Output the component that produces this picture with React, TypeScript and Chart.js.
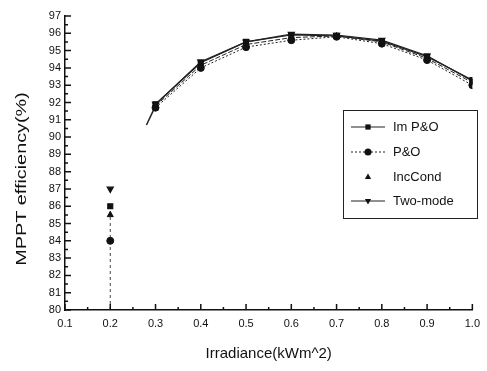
import React, { useEffect, useRef } from "react";
import { Chart, registerables } from "chart.js";

Chart.register(...registerables);

const irradiance = [0.3, 0.4, 0.5, 0.6, 0.7, 0.8, 0.9, 1.0];
const imPO = [91.9, 94.3, 95.5, 95.9, 95.85, 95.55, 94.65, 93.3];
const pO = [91.7, 94.0, 95.2, 95.6, 95.8, 95.4, 94.45, 93.0];
const incCond = [91.8, 94.15, 95.35, 95.75, 95.85, 95.5, 94.55, 93.15];
const twoMode = [91.9, 94.35, 95.5, 95.95, 95.9, 95.6, 94.7, 93.25];

const lowIrr = 0.2;
const lowImPO = 86;
const lowPO = 84;
const lowIncCond = 85.5;
const lowTwoMode = 87;

const dropLineX = [0.2, 0.2];
const dropLineY = [80, 86];
const stubX = [0.28, 0.3];
const stubY = [90.7, 91.8];

const seriesNames = ["Im P&O", "P&O", "IncCond", "Two-mode"];
const xTitle = "Irradiance(kWm^2)";
const yTitle = "MPPT efficiency(%)";
const xTicksMin = 0.1;
const xTicksMax = 1.0;
const yTicksMin = 80;
const yTicksMax = 97;

const FONT = "'Liberation Sans', Arial, sans-serif";

function pts(xs: number[], ys: number[]) {
  return xs.map((x, i) => ({ x, y: ys[i] }));
}

function withLow(lowY: number, ys: number[]) {
  return [{ x: lowIrr, y: lowY }, { x: NaN, y: NaN }, ...pts(irradiance, ys)];
}

function drawMarker(ctx: CanvasRenderingContext2D, style: string, rot: number, r: number, x: number, y: number) {
  ctx.beginPath();
  if (style === "rect") {
    ctx.rect(x - r * 0.75, y - r * 0.75, r * 1.5, r * 1.5);
  } else if (style === "circle") {
    ctx.arc(x, y, r, 0, Math.PI * 2);
  } else {
    const s = rot === 180 ? -1 : 1;
    ctx.moveTo(x, y - s * r);
    ctx.lineTo(x - r * 0.9, y + s * r * 0.6);
    ctx.lineTo(x + r * 0.9, y + s * r * 0.6);
    ctx.closePath();
  }
  ctx.fill();
}

const ticksPlugin = {
  id: "inwardTicks",
  afterDraw(chart: any) {
    const ctx = chart.ctx;
    const xs = chart.scales.x;
    const ys = chart.scales.y;
    const area = chart.chartArea;
    ctx.save();
    ctx.strokeStyle = "#111";
    ctx.lineWidth = 1.5;
    ctx.beginPath();
    for (let i = 0; i <= 18; i++) {
      const v = xTicksMin + i * 0.05;
      const px = xs.getPixelForValue(v);
      const len = i % 2 === 0 ? 6 : 3;
      ctx.moveTo(px, area.bottom);
      ctx.lineTo(px, area.bottom - len);
    }
    for (let i = 0; i <= 34; i++) {
      const v = yTicksMin + i * 0.5;
      const py = ys.getPixelForValue(v);
      const len = i % 2 === 0 ? 6 : 3;
      ctx.moveTo(area.left, py);
      ctx.lineTo(area.left + len, py);
    }
    ctx.stroke();

    // y-axis title (stretched like the reference)
    ctx.save();
    ctx.translate(22, 179);
    ctx.rotate(-Math.PI / 2);
    ctx.scale(1.32, 1);
    ctx.font = `15px ${FONT}`;
    ctx.textAlign = "center";
    ctx.textBaseline = "middle";
    ctx.fillStyle = "#111";
    ctx.fillText(yTitle, 0, 0);
    ctx.restore();

    const bx = 343, by = 110, bw = 134, bh = 108;
    ctx.lineWidth = 1;
    ctx.strokeStyle = "#222";
    ctx.strokeRect(bx + 0.5, by + 0.5, bw, bh);
    const rows = [127, 152, 177, 201];
    ctx.font = `13px ${FONT}`;
    ctx.textBaseline = "middle";
    ctx.fillStyle = "#111";
    chart.data.datasets.slice(0, 4).forEach((ds: any, i: number) => {
      const y = rows[i];
      const x0 = bx + 8, x1 = bx + 42;
      if (i !== 2) {
        ctx.save();
        ctx.strokeStyle = ds.borderColor;
        ctx.lineWidth = ds.borderWidth;
        ctx.setLineDash(ds.borderDash || []);
        ctx.beginPath();
        ctx.moveTo(x0, y);
        ctx.lineTo(x1, y);
        ctx.stroke();
        ctx.restore();
      }
      ctx.save();
      ctx.fillStyle = "#111";
      drawMarker(ctx, ds.pointStyle, ds.pointRotation || 0, ds.pointRadius, (x0 + x1) / 2, y);
      ctx.restore();
      ctx.fillText(seriesNames[i], bx + 50, y);
    });
    ctx.restore();
  },
};

export default function App() {
  const ref = useRef<HTMLCanvasElement>(null);
  useEffect(() => {
    document.body.style.margin = "0";
    const common = {
      borderColor: "#222",
      backgroundColor: "#111",
      pointBorderColor: "#111",
      pointBackgroundColor: "#111",
      showLine: true,
      spanGaps: false,
    };
    const chart = new Chart(ref.current!, {
      type: "scatter",
      data: {
        datasets: [
          { ...common, label: seriesNames[0], data: withLow(lowImPO, imPO), pointStyle: "rect", pointRadius: 3.5, borderWidth: 1.2 },
          { ...common, label: seriesNames[1], data: withLow(lowPO, pO), pointStyle: "circle", pointRadius: 3.5, borderWidth: 1, borderDash: [2, 2] },
          { ...common, label: seriesNames[2], data: withLow(lowIncCond, incCond), pointStyle: "triangle", pointRadius: 3.5, borderWidth: 1, borderDash: [5, 2] },
          { ...common, label: seriesNames[3], data: withLow(lowTwoMode, twoMode), pointStyle: "triangle", pointRotation: 180, pointRadius: 3.5, borderWidth: 1.2 },
          { ...common, label: "drop", data: pts(dropLineX, dropLineY), pointRadius: 0, borderWidth: 1, borderDash: [3, 3], borderColor: "#444" },
          { ...common, label: "stub", data: pts(stubX, stubY), pointRadius: 0, borderWidth: 1.5 },
        ],
      } as any,
      options: {
        animation: false,
        responsive: false,
        layout: { padding: { top: 16, right: 9, left: 0, bottom: 0 } },
        plugins: { legend: { display: false }, tooltip: { enabled: false } },
        scales: {
          x: {
            type: "linear",
            min: xTicksMin,
            max: xTicksMax,
            grid: { display: false, drawTicks: false },
            border: { display: true, color: "#111", width: 1.5 },
            ticks: {
              stepSize: 0.1,
              padding: 7,
              color: "#111",
              font: { family: FONT, size: 11 },
              callback: (v: any) => Number(v).toFixed(1),
            },
            title: {
              display: true,
              text: xTitle,
              color: "#111",
              font: { family: FONT, size: 15 },
              padding: { top: 4, bottom: 8 },
            },
            afterFit: (s: any) => { s.height = 61; },
          },
          y: {
            type: "linear",
            min: yTicksMin,
            max: yTicksMax,
            grid: { display: false, drawTicks: false },
            border: { display: true, color: "#111", width: 1.5 },
            ticks: {
              stepSize: 1,
              padding: 4,
              color: "#111",
              font: { family: FONT, size: 11 },
            },
            title: { display: false },
            afterFit: (s: any) => { s.width = 65; },
          },
        },
      },
      plugins: [ticksPlugin],
    } as any);
    return () => chart.destroy();
  }, []);
  return <canvas ref={ref} width={487} height={371} style={{ display: "block" }} />;
}
